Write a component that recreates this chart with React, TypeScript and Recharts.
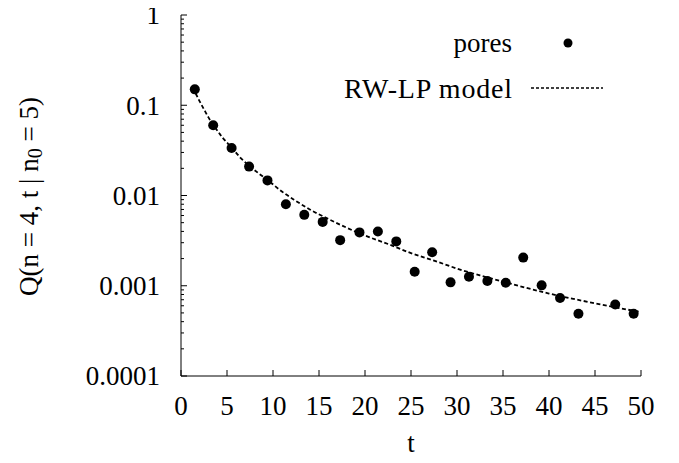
import React from "react";
import { ComposedChart, XAxis, YAxis, Scatter, Line } from "recharts";

// measured pore data
const poreT = [1.5, 3.5, 5.5, 7.4, 9.4, 11.4, 13.4, 15.4, 17.3, 19.4, 21.4, 23.4, 25.4, 27.3, 29.3, 31.3, 33.3, 35.3, 37.2, 39.2, 41.2, 43.2, 47.2, 49.2];
const poreQ = [0.15, 0.06, 0.0336, 0.0209, 0.0147, 0.008, 0.0061, 0.0051, 0.0032, 0.0039, 0.004, 0.0031, 0.00143, 0.00235, 0.00109, 0.00126, 0.00113, 0.00108, 0.00205, 0.00101, 0.00073, 0.00049, 0.00062, 0.00049];

// RW-LP model curve
const modelT = [1.6, 2, 2.5, 3, 3.5, 4.5, 5.5, 6.5, 7.5, 8.5, 9.5, 11, 12.5, 14, 16, 18, 20, 22.5, 25, 27.5, 30, 32.5, 35, 37.5, 40, 42.5, 45, 47.5, 50];
const modelQ = [0.135, 0.112, 0.09, 0.073, 0.061, 0.044, 0.034, 0.026, 0.021, 0.0174, 0.0146, 0.011, 0.0087, 0.007, 0.0055, 0.0044, 0.0036, 0.0029, 0.0023, 0.0019, 0.00155, 0.0013, 0.00111, 0.00095, 0.00082, 0.00072, 0.00064, 0.00057, 0.00051];

const xTicks = [0, 5, 10, 15, 20, 25, 30, 35, 40, 45, 50];
const yDecades = [0.0001, 0.001, 0.01, 0.1, 1];

const yTicks: number[] = [];
yDecades.forEach((d, i) => {
  if (i === yDecades.length - 1) {
    yTicks.push(d);
    return;
  }
  for (let k = 1; k <= 9; k++) yTicks.push(d * k);
});

const poresData = poreT.map((t, i) => ({ t, q: poreQ[i] }));
const modelData = modelT.map((t, i) => ({ t, q: modelQ[i] }));

const FONT = "'Liberation Serif', 'Times New Roman', 'DejaVu Serif', serif";
const FS = 27;
const W = 671;
const H = 455;
const X_MARGIN = 30;
const Y_MARGIN = 21;
const MAJOR = 6;
const MINOR = 3;

const txt: React.CSSProperties = { fontFamily: FONT, fontSize: FS };

const isMajor = (v: number) => yDecades.some((d) => Math.abs(v - d) / d < 1e-6);

function BottomTick({ x, y, payload }: any) {
  const axisY = y - X_MARGIN;
  return (
    <g>
      <line x1={x} x2={x} y1={axisY} y2={axisY - MAJOR} stroke="#000" />
      <text x={x} y={y} dy="0.35em" textAnchor="middle" style={txt} fill="#000">
        {payload.value}
      </text>
    </g>
  );
}

function TopTick({ x, y }: any) {
  return <line x1={x} x2={x} y1={y} y2={y + MAJOR} stroke="#000" />;
}

function LeftTick({ x, y, payload }: any) {
  const axisX = x + Y_MARGIN;
  const major = isMajor(payload.value);
  return (
    <g>
      <line x1={axisX} x2={axisX + (major ? MAJOR : MINOR)} y1={y} y2={y} stroke="#000" />
      {major && (
        <text x={x} y={y} dy="0.35em" textAnchor="end" style={txt} fill="#000">
          {String(payload.value)}
        </text>
      )}
    </g>
  );
}

function RightTick({ x, y, payload }: any) {
  const major = isMajor(payload.value);
  return <line x1={x} x2={x - (major ? MAJOR : MINOR)} y1={y} y2={y} stroke="#000" />;
}

function YTitle({ viewBox }: any) {
  const cx = 21;
  const cy = viewBox.y + viewBox.height / 2 + 1;
  return (
    <text
      x={cx}
      y={cy}
      transform={`rotate(-90 ${cx} ${cy})`}
      textAnchor="middle"
      dominantBaseline="central"
      style={txt}
      fill="#000"
    >
      Q(n = 4, t | n
      <tspan style={{ fontSize: FS * 0.75 }} dy="0.3em">0</tspan>
      <tspan dy="-0.22em"> = 5)</tspan>
    </text>
  );
}

function XTitle({ viewBox }: any) {
  return (
    <text
      x={viewBox.x + viewBox.width / 2}
      y={viewBox.y + 67}
      textAnchor="middle"
      dominantBaseline="central"
      style={txt}
      fill="#000"
    >
      t
    </text>
  );
}

function KeyBox() {
  return (
    <svg width={W} height={110} style={{ position: "absolute", left: 0, top: 0, pointerEvents: "none" }}>
      <text x={504} y={35} textAnchor="end" dominantBaseline="central" style={txt} fill="#000">
        pores
      </text>
      <circle cx={560} cy={35} r={4.5} fill="#000" />
      <text
        x={504}
        y={80}
        textAnchor="end"
        dominantBaseline="central"
        style={{ ...txt, fontSize: 28 }}
        textLength={168}
        lengthAdjust="spacing"
        fill="#000"
      >
        RW-LP model
      </text>
      <line x1={523} x2={595} y1={80} y2={80} stroke="#000" strokeWidth={1.4} strokeDasharray="3 2" />
    </svg>
  );
}

export default function App() {
  return (
    <div style={{ position: "relative", width: W, height: H }}>
      <style>{`.recharts-surface { overflow: visible; }`}</style>
      <ComposedChart width={W} height={H} margin={{ top: 7, right: 38, bottom: 0, left: 0 }}>
        <XAxis
          xAxisId="b"
          dataKey="t"
          type="number"
          domain={[0, 50]}
          ticks={xTicks}
          interval={0}
          height={87}
          tickSize={0}
          tickMargin={X_MARGIN}
          tick={<BottomTick />}
          axisLine={{ stroke: "#000" }}
          label={<XTitle />}
        />
        <XAxis
          xAxisId="top"
          orientation="top"
          dataKey="t"
          type="number"
          domain={[0, 50]}
          ticks={xTicks}
          interval={0}
          height={0}
          tickSize={0}
          tickMargin={0}
          tick={<TopTick />}
          axisLine={{ stroke: "#000" }}
        />
        <YAxis
          yAxisId="l"
          scale="log"
          type="number"
          domain={[0.0001, 1]}
          allowDataOverflow
          ticks={yTicks}
          interval={0}
          width={173}
          tickSize={0}
          tickMargin={Y_MARGIN}
          tick={<LeftTick />}
          axisLine={{ stroke: "#000" }}
          label={<YTitle />}
        />
        <YAxis
          yAxisId="r"
          orientation="right"
          scale="log"
          type="number"
          domain={[0.0001, 1]}
          allowDataOverflow
          ticks={yTicks}
          interval={0}
          width={0}
          tickSize={0}
          tickMargin={0}
          tick={<RightTick />}
          axisLine={{ stroke: "#000" }}
        />
        <Line
          xAxisId="b"
          yAxisId="l"
          data={modelData}
          dataKey="q"
          type="monotone"
          stroke="#000"
          strokeWidth={1.8}
          strokeDasharray="4 2.5"
          dot={false}
          activeDot={false}
          isAnimationActive={false}
        />
        <Scatter
          xAxisId="b"
          yAxisId="l"
          data={poresData}
          dataKey="q"
          fill="#000"
          shape={(p: any) => <circle cx={p.cx} cy={p.cy} r={5} fill="#000" />}
          isAnimationActive={false}
        />
      </ComposedChart>
      <KeyBox />
    </div>
  );
}
